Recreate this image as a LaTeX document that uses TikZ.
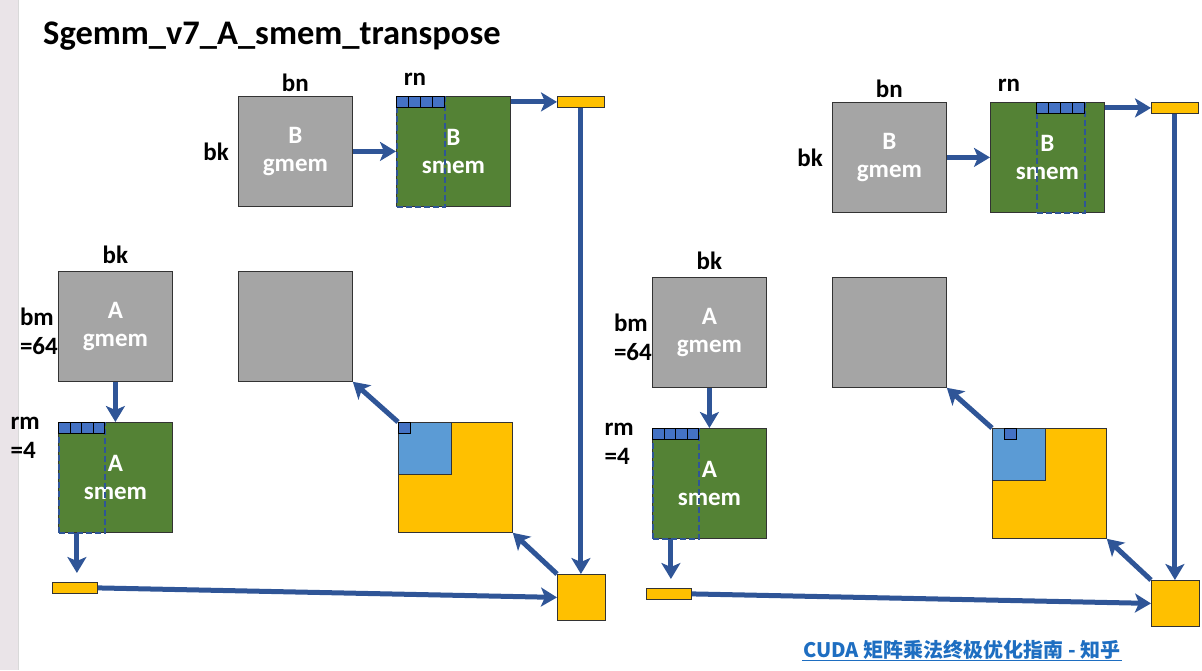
\documentclass[tikz,border=0pt]{standalone}
\usepackage{fontspec}
\setmainfont{Carlito}
\newfontfamily\cjk{Noto Sans CJK SC}
\usetikzlibrary{arrows.meta,positioning}

\definecolor{gmemgray}{HTML}{A5A5A5}
\definecolor{smemgreen}{HTML}{548235}
\definecolor{accyellow}{HTML}{FFC000}
\definecolor{tileblue}{HTML}{5B9BD5}
\definecolor{cellblue}{HTML}{4472C4}
\definecolor{arrowblue}{HTML}{2F5597}
\definecolor{footblue}{HTML}{1E6EC1}
\definecolor{edgegray}{HTML}{EAE4E8}

\tikzset{
  blk/.style={draw=black!80, line width=0.8pt, anchor=north west, inner sep=0pt,
    minimum width=114pt, minimum height=110pt, align=center, text=white,
    font=\bfseries\fontsize{25}{28}\selectfont},
  glob/.style={blk, fill=gmemgray},
  shr/.style={blk, fill=smemgreen},
  accbox/.style={draw=black!80, line width=0.8pt, fill=accyellow, anchor=north west, inner sep=0pt},
  cell/.style={draw=black, line width=0.7pt, fill=cellblue, anchor=north west, inner sep=0pt,
    minimum width=12pt, minimum height=11pt},
  colbox/.style={draw=arrowblue, dashed, dash pattern=on 6pt off 3pt, line width=1.8pt,
    anchor=north west, inner sep=0pt, minimum width=48pt, minimum height=110pt},
  lab/.style={font=\bfseries\fontsize{25}{29}\selectfont, inner sep=0pt, align=left},
  arr/.style={draw=arrowblue, line width=5pt, -{Stealth[length=16pt,width=19pt,inset=4pt]}},
}

\begin{document}
\begin{tikzpicture}[x=1pt,y=-1pt]
  \useasboundingbox (0,0) rectangle (1202,670);

  % left edge of the slide
  \fill[edgegray] (0,0) rectangle (18,670);
  \draw[black!15, line width=0.8pt] (18,0) -- (18,670);

  % Title
  \node[anchor=west, inner sep=0pt, font=\bfseries\fontsize{34.5}{34.5}\selectfont] (title) at (43,36) {Sgemm\_v7\_A\_smem\_transpose};

  \foreach \p/\dx/\dy/\bx/\cx in {L/0/0/0/0, R/594/6/46/12}{
    \begin{scope}[shift={(\dx,\dy)}]
      % B: global -> shared
      \node[glob] (\p Bg) at (238,96) {B\\gmem};
      \node[shr] (\p Bs) at (396,96) {B\\smem};
      \node[lab, above=4pt of \p Bg] (\p bn) {bn};
      \node[lab, left=9pt of \p Bg] (\p bkB) {bk};
      \node[lab, anchor=south] (\p rn) at ([xshift=19pt,yshift=10pt]\p Bs.north west) {rn};
      \node[colbox] (\p Bcol) at (396+\bx,96) {};
      \foreach \i in {0,...,3}
        \node[cell] (\p Bc\i) at (396+\bx+12*\i,96) {};
      \node[accbox, minimum width=47pt, minimum height=11pt] (\p Bbar) at (557,96) {};

      % A: global -> shared
      \node[glob] (\p Ag) at (58,271) {A\\gmem};
      \node[shr] (\p As) at (58,422) {A\\smem};
      \node[lab, above=7pt of \p Ag] (\p bkA) {bk};
      \node[lab, anchor=east] (\p bm) at ([yshift=-5pt]\p Ag.west) {bm\\=64};
      \node[lab, anchor=north east] (\p rm) at ([xshift=-18pt,yshift=5pt]\p As.north west) {rm\\=4};
      \node[colbox, minimum width=46pt] (\p Acol) at (58,422) {};
      \foreach \i in {0,...,3}
        \node[cell, minimum width=11.5pt] (\p Ac\i) at (58+11.5*\i,422) {};
      \node[accbox, minimum width=45pt, minimum height=11pt] (\p Abar) at (52,582) {};

      % C tiles
      \node[glob] (\p Cg) at (238,271) {};
      \node[accbox, minimum width=114pt, minimum height=110pt] (\p Cb) at (398,422) {};
      \node[accbox, fill=tileblue, minimum width=53pt, minimum height=52pt] (\p Cl) at (398,422) {};
      \node[cell] (\p Cd) at (398+\cx,422) {};
      \node[accbox, minimum width=48pt, minimum height=46pt] (\p Cs) at (557,574) {};

      % Arrows
      \draw[arr] (\p Bg) -- (\p Bs);
      \draw[arr] (\p Bbar.west -| \p Bs.east) -- (\p Bbar.west);
      \draw[arr] (\p Bbar.south) -- (\p Bbar.south |- \p Cs.north);
      \draw[arr] (\p Ag.south) -- (\p Ag.south |- \p As.north);
      \draw[arr] ([xshift=2pt]\p Abar.north |- \p As.south) -- ([xshift=2pt,yshift=9pt]\p Abar.north);
      \draw[arr] (\p Abar.east) -- (\p Cs.west);
      \draw[arr] (\p Cs.north west) -- (\p Cb.south east);
      \draw[arr] (\p Cb.north west) -- (\p Cg.south east);
    \end{scope}
  }

  % Source
  \node[anchor=west, inner sep=1pt, text=footblue, font=\cjk\bfseries\fontsize{20}{20}\selectfont] (foot) at (802,650) {CUDA 矩阵乘法终极优化指南 - 知乎};
  \draw[footblue, line width=1.2pt] (foot.south west) -- (foot.south east);

\end{tikzpicture}
\end{document}
